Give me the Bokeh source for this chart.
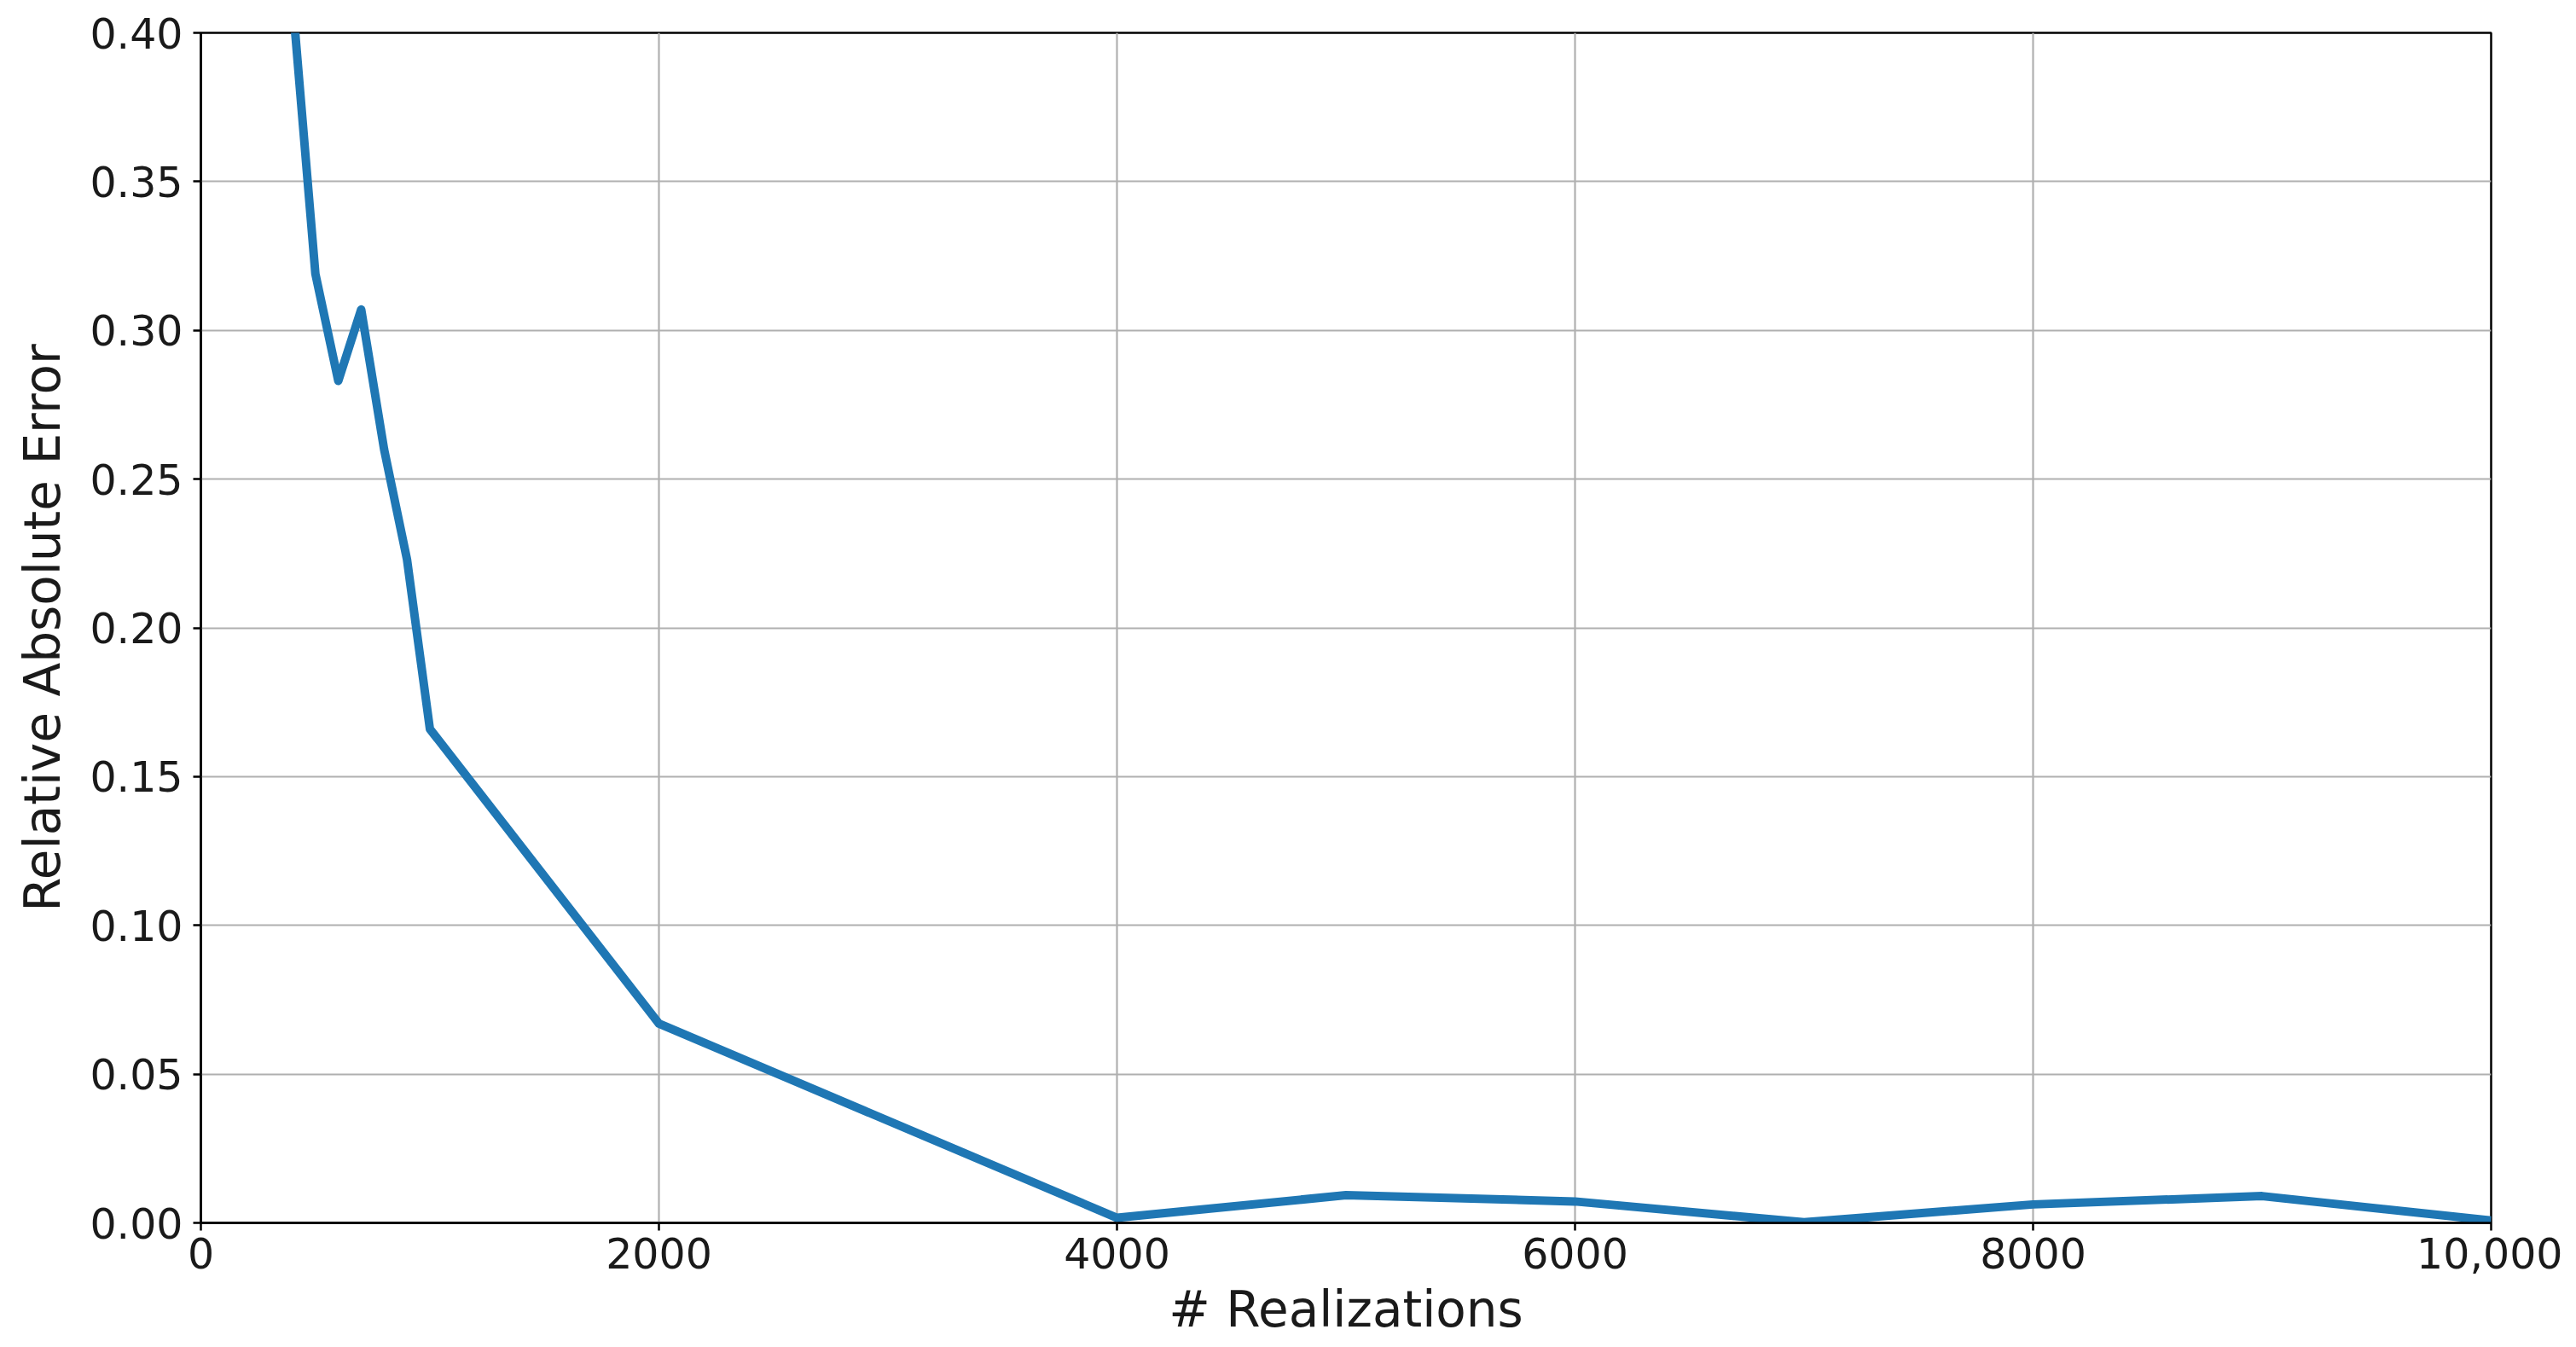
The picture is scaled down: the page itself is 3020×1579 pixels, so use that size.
from bokeh.plotting import figure
from bokeh.models import Range1d, FixedTicker, NumeralTickFormatter
from bokeh.embed import file_html
from bokeh.resources import INLINE

# Data
realizations = [100, 200, 300, 400, 500, 600, 700, 800, 900, 1000,
                2000, 4000, 5000, 6000, 7000, 8000, 9000, 10000]
rel_abs_error = [1.10, 0.75, 0.55, 0.411, 0.319, 0.283, 0.307, 0.260, 0.223, 0.166,
                 0.067, 0.0017, 0.0093, 0.0072, 0.0002, 0.0062, 0.0090, 0.0008]

x_ticks = [0, 2000, 4000, 6000, 8000, 10000]
x_tick_overrides = {10000: "10,000"}
y_ticks = [0.0, 0.05, 0.10, 0.15, 0.20, 0.25, 0.30, 0.35, 0.40]

FONT = "DejaVu Sans"

p = figure(width=3004, height=1571, output_backend="svg", toolbar_location=None,
           x_range=Range1d(0, 10000), y_range=Range1d(0, 0.40),
           min_border_left=235, min_border_right=84, min_border_top=38, min_border_bottom=120)

p.outline_line_color = "black"
p.outline_line_width = 2.5
p.background_fill_color = "white"
p.border_fill_color = "white"

p.line(realizations, rel_abs_error, line_color="#1f77b4", line_width=10,
       line_join="round", line_cap="butt")

for ax in (p.xaxis[0], p.yaxis[0]):
    ax.axis_line_color = "black"
    ax.axis_line_width = 2.5
    ax.major_tick_line_color = "black"
    ax.major_tick_line_width = 2.5
    ax.major_tick_out = 9
    ax.major_tick_in = 0
    ax.minor_tick_line_color = None
    ax.major_label_text_font = FONT
    ax.major_label_text_font_size = "49px"
    ax.major_label_text_color = "#1a1a1a"
    ax.axis_label_text_font = FONT
    ax.axis_label_text_font_size = "58px"
    ax.axis_label_text_font_style = "normal"
    ax.axis_label_text_color = "#1a1a1a"

p.xaxis.ticker = FixedTicker(ticks=x_ticks)
p.xaxis.major_label_overrides = x_tick_overrides
p.xaxis.axis_label = "# Realizations"
p.xaxis.major_label_standoff = 8
p.xaxis.axis_label_standoff = 11

p.yaxis.ticker = FixedTicker(ticks=y_ticks)
p.yaxis.formatter = NumeralTickFormatter(format="0.00")
p.yaxis.axis_label = "Relative Absolute Error"
p.yaxis.major_label_standoff = 12
p.yaxis.axis_label_standoff = 18

for g in (p.xgrid[0], p.ygrid[0]):
    g.grid_line_color = "#b0b0b0"
    g.grid_line_width = 2.2

open("out.html", "w").write(file_html(p, INLINE))
